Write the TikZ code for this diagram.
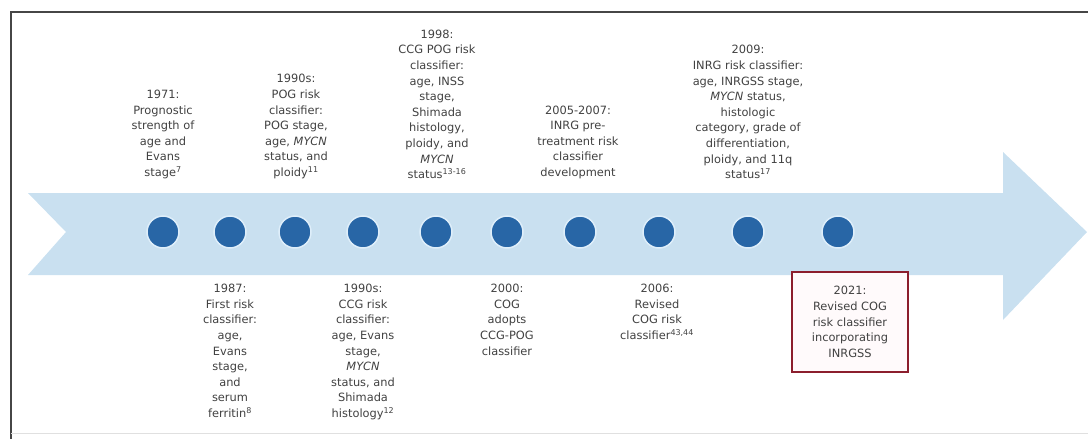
\documentclass[tikz,border=0pt]{standalone}
\usepackage{fontspec}
\setmainfont{DejaVu Sans}
\definecolor{arrowblue}{RGB}{201,224,240}
\definecolor{dotblue}{RGB}{40,102,166}
\definecolor{halo}{RGB}{222,238,250}
\definecolor{textgray}{RGB}{65,65,65}
\definecolor{framegray}{RGB}{70,70,70}
\definecolor{boxred}{RGB}{140,30,45}
\definecolor{boxfill}{RGB}{255,250,251}
\begin{document}
\begin{tikzpicture}[x=1pt,y=-1pt,
  evtext/.style={align=center,inner sep=0pt,text=textgray,font=\fontsize{11.4}{15.6}\selectfont},
  topev/.style={evtext,anchor=south},
  botev/.style={evtext,anchor=north},
  tdot/.style={circle,fill=dotblue,draw=halo,line width=1.5pt,minimum size=32pt,inner sep=0pt},
  redbox/.style={evtext,draw=boxred,fill=boxfill,line width=2pt,minimum width=116pt,minimum height=100pt}
]
\useasboundingbox (0,0) rectangle (1088,439);
% frame
\draw[framegray,line width=2.5pt] (11,439) -- (11,12) -- (1088,12);
\draw[black!12,line width=1pt] (11,433) -- (1088,433);
% arrow band
\fill[arrowblue] (28,193) -- (1003,193) -- (1003,152) -- (1087,232) -- (1003,320) -- (1003,275) -- (28,275) -- (66,232) -- cycle;
% dots
\foreach \i/\x in {1/163,2/230,3/295,4/363,5/436,6/507,7/580,8/659,9/748,10/838}
  \node[tdot] (d\i) at (\x,232) {};
% top texts
\node[topev] (t1) at (163,179) {1971:\\Prognostic\\strength of\\age and\\Evans\\stage\textsuperscript{7}};
\node[topev] (t3) at (296,179) {1990s:\\POG risk\\classifier:\\POG stage,\\age, \textit{MYCN}\\status, and\\ploidy\textsuperscript{11}};
\node[topev] (t5) at (437,179) {1998:\\CCG POG risk\\classifier:\\age, INSS\\stage,\\Shimada\\histology,\\ploidy, and\\\textit{MYCN}\\status\textsuperscript{13-16}};
\node[topev] (t7) at (578,179) {2005-2007:\\INRG pre-\\treatment risk\\classifier\\development};
\node[topev] (t9) at (748,179) {2009:\\INRG risk classifier:\\age, INRGSS stage,\\\textit{MYCN} status,\\histologic\\category, grade of\\differentiation,\\ploidy, and 11q\\status\textsuperscript{17}};
% bottom texts
\node[botev] (b2) at (230,284) {1987:\\First risk\\classifier:\\age,\\Evans\\stage,\\and\\serum\\ferritin\textsuperscript{8}};
\node[botev] (b4) at (363,284) {1990s:\\CCG risk\\classifier:\\age, Evans\\stage,\\\textit{MYCN}\\status, and\\Shimada\\histology\textsuperscript{12}};
\node[botev] (b6) at (507,284) {2000:\\COG\\adopts\\CCG-POG\\classifier};
\node[botev] (b8) at (657,284) {2006:\\Revised\\COG risk\\classifier\textsuperscript{43,44}};
\node[redbox] (b10) at (850,322) {2021:\\Revised COG\\risk classifier\\incorporating\\INRGSS};
\end{tikzpicture}
\end{document}
